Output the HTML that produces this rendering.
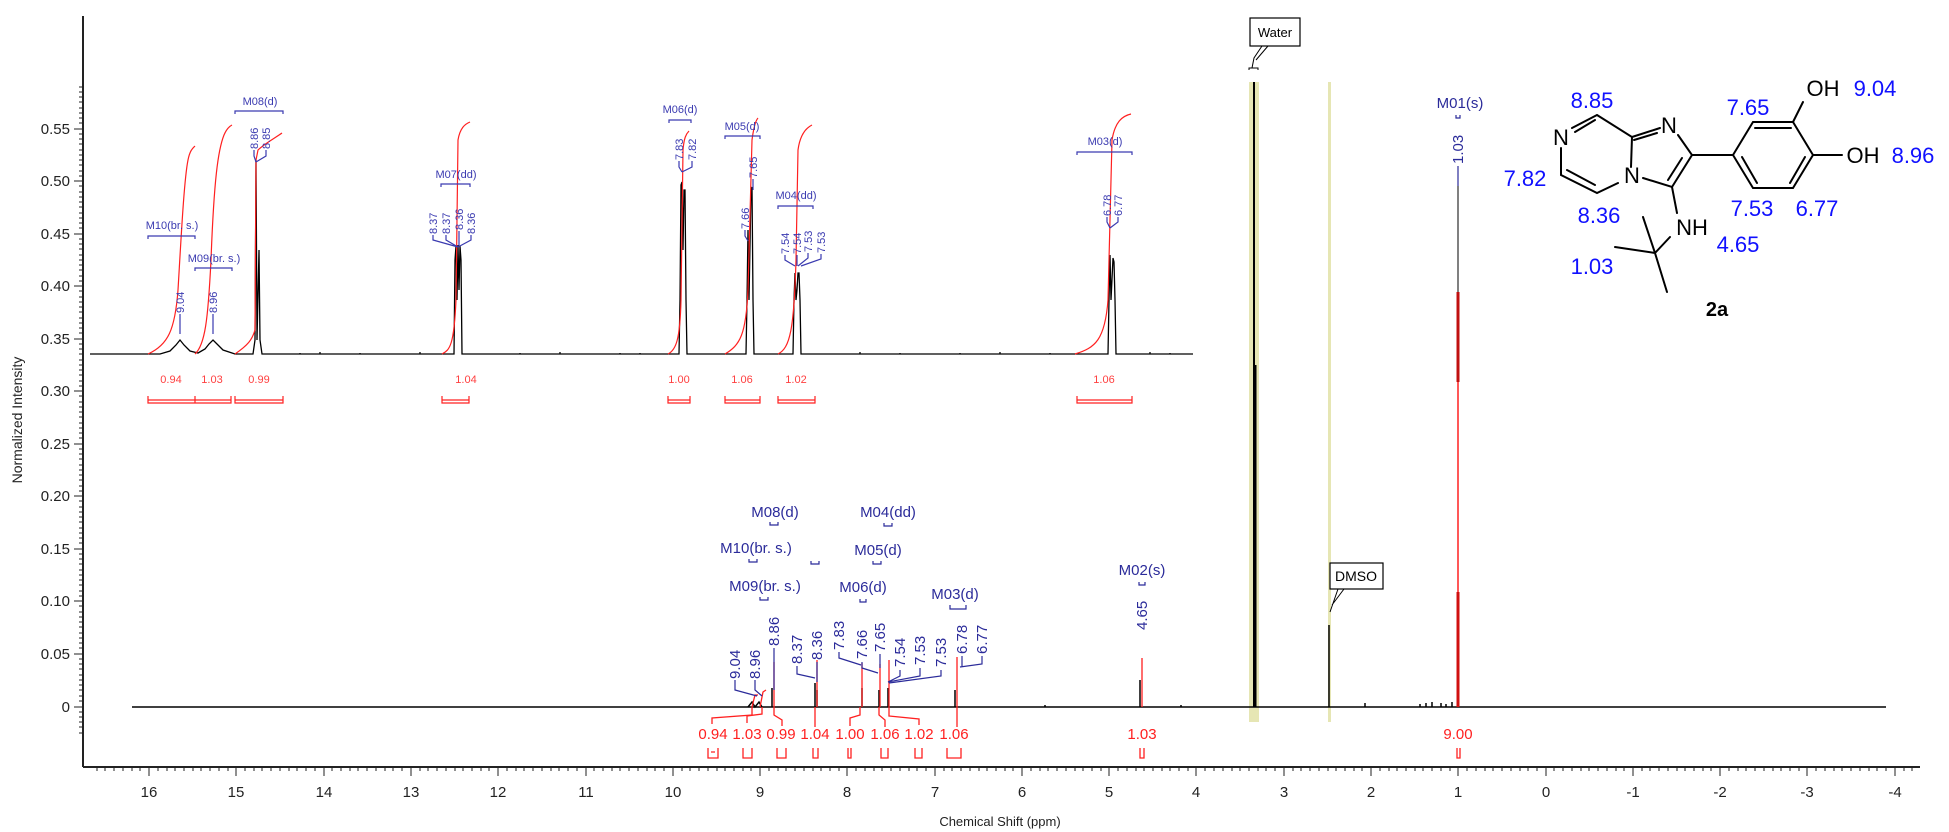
<!DOCTYPE html>
<html><head><meta charset="utf-8"><style>
html,body{margin:0;padding:0;background:#fff;}
svg{display:block;font-family:"Liberation Sans",sans-serif;}
.yl{font-size:15px;fill:#222;text-anchor:end;}
.xl{font-size:15px;fill:#222;text-anchor:middle;}
.m{font-size:15px;fill:#2b2b9a;text-anchor:middle;}
.mi{font-size:11px;fill:#3a3ab0;text-anchor:middle;}
.pv{font-size:15px;fill:#2b2b9a;}
.pvi{font-size:11px;fill:#3a3ab0;}
.ig{font-size:15px;fill:#ff2020;text-anchor:middle;}
.igi{font-size:11px;fill:#ff4040;text-anchor:middle;}
.st{font-size:22px;fill:#1010ff;}
.at{font-size:22px;fill:#000;}
</style></head><body>
<svg width="1949" height="832" viewBox="0 0 1949 832" xmlns="http://www.w3.org/2000/svg">
<rect x="1249" y="82" width="10" height="640" fill="#e6e6b4"/>
<rect x="1328" y="82" width="3" height="640" fill="#e6e6b4"/>

<line x1="83" y1="16" x2="83" y2="767" stroke="#222" stroke-width="2"/>
<line x1="83" y1="767" x2="1920" y2="767" stroke="#222" stroke-width="2"/>
<g stroke="#222" stroke-width="1">
<path d="M83 87h-4M83 92h-4M83 97h-4M83 102h-4M83 108h-4M83 113h-4M83 118h-4M83 123h-4M83 134h-4M83 139h-4M83 144h-4M83 150h-4M83 155h-4M83 160h-4M83 165h-4M83 171h-4M83 176h-4M83 186h-4M83 192h-4M83 197h-4M83 202h-4M83 207h-4M83 213h-4M83 218h-4M83 223h-4M83 228h-4M83 239h-4M83 244h-4M83 249h-4M83 255h-4M83 260h-4M83 265h-4M83 270h-4M83 276h-4M83 281h-4M83 291h-4M83 297h-4M83 302h-4M83 307h-4M83 312h-4M83 318h-4M83 323h-4M83 328h-4M83 333h-4M83 344h-4M83 349h-4M83 354h-4M83 360h-4M83 365h-4M83 370h-4M83 375h-4M83 381h-4M83 386h-4M83 396h-4M83 402h-4M83 407h-4M83 412h-4M83 417h-4M83 423h-4M83 428h-4M83 433h-4M83 438h-4M83 449h-4M83 454h-4M83 459h-4M83 465h-4M83 470h-4M83 475h-4M83 480h-4M83 486h-4M83 491h-4M83 501h-4M83 507h-4M83 512h-4M83 517h-4M83 522h-4M83 528h-4M83 533h-4M83 538h-4M83 543h-4M83 554h-4M83 559h-4M83 564h-4M83 570h-4M83 575h-4M83 580h-4M83 585h-4M83 591h-4M83 596h-4M83 606h-4M83 612h-4M83 617h-4M83 622h-4M83 627h-4M83 633h-4M83 638h-4M83 643h-4M83 648h-4M83 659h-4M83 664h-4M83 669h-4M83 675h-4M83 680h-4M83 685h-4M83 690h-4M83 696h-4M83 701h-4M83 712h-4M83 717h-4M83 722h-4M83 727h-4M83 733h-4"/>
<path d="M83 129h-9M83 181h-9M83 234h-9M83 286h-9M83 339h-9M83 391h-9M83 444h-9M83 496h-9M83 549h-9M83 601h-9M83 654h-9M83 707h-9"/>
</g>
<g class="yl">
<text x="70" y="134">0.55</text><text x="70" y="186">0.50</text><text x="70" y="239">0.45</text><text x="70" y="291">0.40</text><text x="70" y="344">0.35</text><text x="70" y="396">0.30</text><text x="70" y="449">0.25</text><text x="70" y="501">0.20</text><text x="70" y="554">0.15</text><text x="70" y="606">0.10</text><text x="70" y="659">0.05</text><text x="70" y="712">0</text>
</g>
<text transform="translate(22,420) rotate(-90)" style="font-size:14px;fill:#222;text-anchor:middle">Normalized Intensity</text>

<g stroke="#222" stroke-width="1">
<path d="M149 767v9M236 767v9M324 767v9M411 767v9M498 767v9M586 767v9M673 767v9M760 767v9M847 767v9M935 767v9M1022 767v9M1109 767v9M1196 767v9M1284 767v9M1371 767v9M1458 767v9M1546 767v9M1633 767v9M1720 767v9M1807 767v9M1895 767v9"/>
<path d="M97 767v4M105 767v4M114 767v4M123 767v4M132 767v4M140 767v4M158 767v4M167 767v4M175 767v4M184 767v4M193 767v4M201 767v4M210 767v4M219 767v4M228 767v4M245 767v4M254 767v4M262 767v4M271 767v4M280 767v4M289 767v4M297 767v4M306 767v4M315 767v4M332 767v4M341 767v4M350 767v4M358 767v4M367 767v4M376 767v4M385 767v4M393 767v4M402 767v4M420 767v4M428 767v4M437 767v4M446 767v4M455 767v4M463 767v4M472 767v4M481 767v4M489 767v4M507 767v4M516 767v4M524 767v4M533 767v4M542 767v4M551 767v4M559 767v4M568 767v4M577 767v4M594 767v4M603 767v4M612 767v4M620 767v4M629 767v4M638 767v4M647 767v4M655 767v4M664 767v4M682 767v4M690 767v4M699 767v4M708 767v4M717 767v4M725 767v4M734 767v4M743 767v4M751 767v4M769 767v4M778 767v4M786 767v4M795 767v4M804 767v4M813 767v4M821 767v4M830 767v4M839 767v4M856 767v4M865 767v4M874 767v4M882 767v4M891 767v4M900 767v4M909 767v4M917 767v4M926 767v4M944 767v4M952 767v4M961 767v4M970 767v4M979 767v4M987 767v4M996 767v4M1005 767v4M1013 767v4M1031 767v4M1040 767v4M1048 767v4M1057 767v4M1066 767v4M1075 767v4M1083 767v4M1092 767v4M1101 767v4M1118 767v4M1127 767v4M1136 767v4M1144 767v4M1153 767v4M1162 767v4M1170 767v4M1179 767v4M1188 767v4M1205 767v4M1214 767v4M1223 767v4M1232 767v4M1240 767v4M1249 767v4M1258 767v4M1266 767v4M1275 767v4M1293 767v4M1301 767v4M1310 767v4M1319 767v4M1328 767v4M1336 767v4M1345 767v4M1354 767v4M1362 767v4M1380 767v4M1389 767v4M1397 767v4M1406 767v4M1415 767v4M1423 767v4M1432 767v4M1441 767v4M1450 767v4M1467 767v4M1476 767v4M1485 767v4M1493 767v4M1502 767v4M1511 767v4M1520 767v4M1528 767v4M1537 767v4M1554 767v4M1563 767v4M1572 767v4M1581 767v4M1589 767v4M1598 767v4M1607 767v4M1616 767v4M1624 767v4M1642 767v4M1650 767v4M1659 767v4M1668 767v4M1677 767v4M1685 767v4M1694 767v4M1703 767v4M1711 767v4M1729 767v4M1738 767v4M1746 767v4M1755 767v4M1764 767v4M1773 767v4M1781 767v4M1790 767v4M1799 767v4M1816 767v4M1825 767v4M1834 767v4M1842 767v4M1851 767v4M1860 767v4M1869 767v4M1877 767v4M1886 767v4M1904 767v4M1912 767v4"/>
</g>
<g class="xl">
<text x="149" y="797">16</text><text x="236" y="797">15</text><text x="324" y="797">14</text><text x="411" y="797">13</text><text x="498" y="797">12</text><text x="586" y="797">11</text><text x="673" y="797">10</text><text x="760" y="797">9</text><text x="847" y="797">8</text><text x="935" y="797">7</text><text x="1022" y="797">6</text><text x="1109" y="797">5</text><text x="1196" y="797">4</text><text x="1284" y="797">3</text><text x="1371" y="797">2</text><text x="1458" y="797">1</text><text x="1546" y="797">0</text><text x="1633" y="797">-1</text><text x="1720" y="797">-2</text><text x="1807" y="797">-3</text><text x="1895" y="797">-4</text>
</g>
<text x="1000" y="826" style="font-size:13px;fill:#222;text-anchor:middle">Chemical Shift (ppm)</text>

<g stroke="#000" stroke-width="1.5" fill="none">
<line x1="132" y1="707" x2="1886" y2="707"/>
<path d="M748 707l4-5l3 5l4-5l3 5"/>
<line x1="772" y1="707" x2="772" y2="688"/>
<line x1="815" y1="707" x2="815" y2="683"/>
<line x1="817" y1="707" x2="817" y2="690"/>
<line x1="862" y1="707" x2="862" y2="688"/>
<line x1="879" y1="707" x2="879" y2="690"/>
<line x1="888" y1="707" x2="888" y2="688"/>
<line x1="955" y1="707" x2="955" y2="690"/>
<line x1="1140" y1="707" x2="1140" y2="680"/>
<line x1="1254" y1="707" x2="1254" y2="82" stroke-width="2"/>
<line x1="1255" y1="707" x2="1255" y2="365" stroke-width="3"/>
<line x1="1329" y1="707" x2="1329" y2="625"/>
<line x1="1458" y1="707" x2="1458" y2="186" stroke-width="1"/>
<path d="M1365 707v-4M1420 707v-3M1426 707v-4M1432 707v-5M1441 707v-4M1446 707v-3M1452 707v-5M1045 707v-2M1181 707v-2"/>
</g>
<g stroke="#ff2020" stroke-width="1.3" fill="none">
<path d="M752 707l3-12 3 0"/><path d="M760 707l3-15 3-2"/>
<line x1="774" y1="707" x2="774" y2="662"/>
<line x1="817" y1="707" x2="817" y2="660"/>
<line x1="862" y1="707" x2="862" y2="663"/>
<line x1="880" y1="707" x2="880" y2="664"/>
<line x1="889" y1="707" x2="889" y2="660"/>
<line x1="957" y1="707" x2="957" y2="657"/>
<line x1="1142" y1="707" x2="1142" y2="658"/>
<line x1="1458" y1="707" x2="1458" y2="292" stroke-width="1.5"/>
<path d="M752 707v8l-40 3v6M762 707v7l-15 2v7M774 707v8l8 5v6M815 707v20M860 707v8l-10 3v8M879 707v8l6 5v7M889 707v9l30 3v6M957 707v20"/>
</g>
<line x1="1458" y1="292" x2="1458" y2="382" stroke="#c01010" stroke-width="3"/>
<line x1="1458" y1="592" x2="1458" y2="707" stroke="#d01010" stroke-width="3"/>
<g class="ig">
<text x="713" y="739">0.94</text><text x="747" y="739">1.03</text><text x="781" y="739">0.99</text><text x="815" y="739">1.04</text><text x="850" y="739">1.00</text><text x="885" y="739">1.06</text><text x="919" y="739">1.02</text><text x="954" y="739">1.06</text><text x="1142" y="739">1.03</text><text x="1458" y="739">9.00</text>
</g>
<g stroke="#ff2020" stroke-width="1.3" fill="none">
<path d="M708 748v10h10v-10M711 752h4M743 748v10h9v-10M777 748v10h9v-10M813 748v10h5v-10M848 748v10h3v-10M881 748v10h7v-10M915 748v10h7v-10M947 748v10h14v-10M1140 748v10h4v-10M1457 748v10h3v-10"/>
</g>
<g class="pv">
<text transform="translate(740,679) rotate(-90)">9.04</text>
<text transform="translate(760,679) rotate(-90)">8.96</text>
<text transform="translate(779,646) rotate(-90)">8.86</text>
<text transform="translate(802,664) rotate(-90)">8.37</text>
<text transform="translate(822,660) rotate(-90)">8.36</text>
<text transform="translate(844,650) rotate(-90)">7.83</text>
<text transform="translate(867,659) rotate(-90)">7.66</text>
<text transform="translate(885,652) rotate(-90)">7.65</text>
<text transform="translate(905,667) rotate(-90)">7.54</text>
<text transform="translate(925,665) rotate(-90)">7.53</text>
<text transform="translate(946,667) rotate(-90)">7.53</text>
<text transform="translate(967,654) rotate(-90)">6.78</text>
<text transform="translate(987,654) rotate(-90)">6.77</text>
<text transform="translate(1147,630) rotate(-90)">4.65</text>
<text transform="translate(1463,164) rotate(-90)">1.03</text>
</g>
<g stroke="#2b2b9a" stroke-width="1.2" fill="none">
<path d="M735 680v10l22 6M755 680v10l7 6M774 648v42M797 666v8l18 4M817 662v20M839 652v6l22 7M862 662v6l16 5M880 654v14M900 670v6l-12 6M920 668v8l-32 6M941 670v6l-52 7M982 656v8l-22 3M962 656v11M1458 166v20"/>
<path d="M770 522v3h8v-3M749 559v3h8v-3M811 561v3h8v-3M760 597v3h8v-3M884 523v3h8v-3M873 561v3h8v-3M860 599v3h6v-3M950 605v4h16v-4M1139 582v3h6v-3M1456 115v3h4v-3"/>
</g>
<g class="m">
<text x="775" y="517">M08(d)</text><text x="756" y="553">M10(br. s.)</text><text x="765" y="591">M09(br. s.)</text>
<text x="888" y="517">M04(dd)</text><text x="878" y="555">M05(d)</text><text x="863" y="592">M06(d)</text>
<text x="955" y="599">M03(d)</text><text x="1142" y="575">M02(s)</text><text x="1460" y="108">M01(s)</text>
</g>
<rect x="1250" y="18" width="50" height="28" fill="#fff" stroke="#000" stroke-width="1.2"/>
<text x="1275" y="37" style="font-size:13px;fill:#000;text-anchor:middle">Water</text>
<path d="M1262 46l-8 12l-2 10M1268 46l-12 14M1249 70v-2h9v2" stroke="#000" fill="none"/>
<rect x="1330" y="563" width="53" height="26" fill="#fff" stroke="#000" stroke-width="1.2"/>
<text x="1356" y="581" style="font-size:14px;fill:#000;text-anchor:middle">DMSO</text>
<path d="M1338 589l-8 23M1344 589l-12 16" stroke="#000" fill="none"/>

<g stroke="#000" stroke-width="1.3" fill="none">
<path d="M90 354H160L170 351L176 345L180 340L184 345L190 351L198 353L205 349L209 344L213 340L217 344L223 350L235 354H253L255 340L256 160L257 340L259 250L260 340L262 354H454L455 260L456 246L457 300L458 245L459 290L460 246L461 260L462 354H679L680 300L681 185L682 182L683 250L684 190L685 190L686 300L687 354H746L747 300L748 230L749 300L751 190L752 187L753 300L754 354H793L794 300L795 273L796 300L797 290L798 273L799 273L800 300L801 354H1108L1109 300L1110 255L1111 300L1113 258L1114 262L1115 300L1116 354H1193"/>
<path d="M300 354v-1M320 354v-2M360 354v-1M420 354v-2M520 354v-1M560 354v-2M620 354v-1M640 354v-1M860 354v-2M900 354v-1M960 354v-1M1000 354v-2M1050 354v-1M1150 354v-2M1170 354v-1"/>
</g>
<g stroke="#ff2020" stroke-width="1.2" fill="none">
<path d="M148 354C168 345 175 330 178 290C181 240 184 180 188 160C190 150 193 148 195 146"/>
<path d="M195 354C205 345 208 320 211 260C214 180 218 150 224 135C227 128 230 126 232 125"/>
<path d="M235 354C248 345 252 340 255 330L256 160L258 150C264 144 275 138 282 133"/>
<path d="M442 354C450 350 454 345 456 300L458 140C460 128 465 124 470 122"/>
<path d="M668 354C676 350 680 340 681 300L683 150C684 138 686 134 689 131"/>
<path d="M725 354C740 345 746 335 748 290L752 140C754 125 756 120 758 118"/>
<path d="M778 354C790 348 794 330 796 260L798 150C800 135 806 128 812 125"/>
<path d="M1075 354C1095 348 1105 340 1108 300L1112 140C1115 122 1122 116 1131 114"/>
</g>
<g class="igi">
<text x="171" y="383">0.94</text><text x="212" y="383">1.03</text><text x="259" y="383">0.99</text><text x="466" y="383">1.04</text><text x="679" y="383">1.00</text><text x="742" y="383">1.06</text><text x="796" y="383">1.02</text><text x="1104" y="383">1.06</text>
</g>
<g stroke="#ff2020" stroke-width="1.2" fill="none">
<path d="M148 396v7h47v-7M195 396v7h36v-7M235 396v7h48v-7M442 396v7h27v-7M668 396v7h22v-7M725 396v7h35v-7M778 396v7h37v-7M1077 396v7h55v-7"/>
<path d="M148 400h47M195 400h36M235 400h48M442 400h27M668 400h22M725 400h35M778 400h37M1077 400h55"/>
</g>
<g stroke="#3a3ab0" stroke-width="1.2" fill="none">
<path d="M148 239v-3h47v3M195 271v-3h37v3M235 114v-3h48v3M441 187v-3h29v3M669 123v-3h22v3M725 139v-3h35v3M778 209v-3h35v3M1077 155v-3h55v3"/>
<path d="M180 314v20M213 314v20M254 150v6l2 6M266 150v6l-10 6M433 235v5l25 7M446 235v5l12 7M459 231v16M471 235v5l-13 7M679 161v6l3 5M692 161v6l-10 5M745 230v6l3 5M753 179v11M785 255v5l10 6M797 255v11M808 253v5l-10 8M821 254v5l-20 7M1107 217v5l3 6M1118 217v5l-8 6"/>
</g>
<g class="mi">
<text x="172" y="229">M10(br. s.)</text><text x="214" y="262">M09(br. s.)</text><text x="260" y="105">M08(d)</text><text x="456" y="178">M07(dd)</text><text x="680" y="113">M06(d)</text><text x="742" y="130">M05(d)</text><text x="796" y="199">M04(dd)</text><text x="1105" y="145">M03(d)</text>
</g>
<g class="pvi">
<text transform="translate(184,313) rotate(-90)">9.04</text>
<text transform="translate(217,313) rotate(-90)">8.96</text>
<text transform="translate(258,149) rotate(-90)">8.86</text>
<text transform="translate(270,149) rotate(-90)">8.85</text>
<text transform="translate(437,234) rotate(-90)">8.37</text>
<text transform="translate(450,234) rotate(-90)">8.37</text>
<text transform="translate(463,230) rotate(-90)">8.36</text>
<text transform="translate(475,234) rotate(-90)">8.36</text>
<text transform="translate(683,160) rotate(-90)">7.83</text>
<text transform="translate(696,160) rotate(-90)">7.82</text>
<text transform="translate(749,229) rotate(-90)">7.66</text>
<text transform="translate(757,178) rotate(-90)">7.65</text>
<text transform="translate(789,254) rotate(-90)">7.54</text>
<text transform="translate(801,254) rotate(-90)">7.54</text>
<text transform="translate(812,252) rotate(-90)">7.53</text>
<text transform="translate(825,253) rotate(-90)">7.53</text>
<text transform="translate(1111,216) rotate(-90)">6.78</text>
<text transform="translate(1122,216) rotate(-90)">6.77</text>
</g>

<g stroke="#000" stroke-width="2" fill="none" stroke-linecap="round">
<path d="M1597 115L1572 128M1561 148L1561 175L1597 193L1618 183M1631 167L1632 137L1597 115"/>
<path d="M1595 120L1575 132M1567 170L1595 185"/>
<path d="M1632 137L1660 128M1678 135L1692 155L1672 187L1643 178"/>
<path d="M1634 140L1657 133M1682 158L1668 180"/>
<path d="M1692 155L1733 155L1753 122L1793 122L1813 155L1793 188L1753 188L1733 155"/>
<path d="M1755 128L1791 128M1805 157L1790 183M1742 157L1757 183"/>
<path d="M1793 122L1803 102M1813 155L1842 155"/>
<path d="M1672 187L1677 213M1670 237L1655 253M1655 253L1643 217M1655 253L1615 247M1655 253L1667 292"/>
</g>
<g class="at">
<text x="1561" y="145" text-anchor="middle">N</text>
<text x="1669" y="133" text-anchor="middle">N</text>
<text x="1632" y="183" text-anchor="middle">N</text>
<text x="1692" y="235" text-anchor="middle">NH</text>
<text x="1823" y="96" text-anchor="middle">OH</text>
<text x="1863" y="163" text-anchor="middle">OH</text>
</g>
<g class="st">
<text x="1592" y="108" text-anchor="middle">8.85</text>
<text x="1525" y="186" text-anchor="middle">7.82</text>
<text x="1599" y="223" text-anchor="middle">8.36</text>
<text x="1748" y="115" text-anchor="middle">7.65</text>
<text x="1875" y="96" text-anchor="middle">9.04</text>
<text x="1913" y="163" text-anchor="middle">8.96</text>
<text x="1752" y="216" text-anchor="middle">7.53</text>
<text x="1817" y="216" text-anchor="middle">6.77</text>
<text x="1738" y="252" text-anchor="middle">4.65</text>
<text x="1592" y="274" text-anchor="middle">1.03</text>
</g>
<text x="1717" y="316" style="font-size:20px;font-weight:bold;fill:#000;text-anchor:middle">2a</text>
</svg>
</body></html>
